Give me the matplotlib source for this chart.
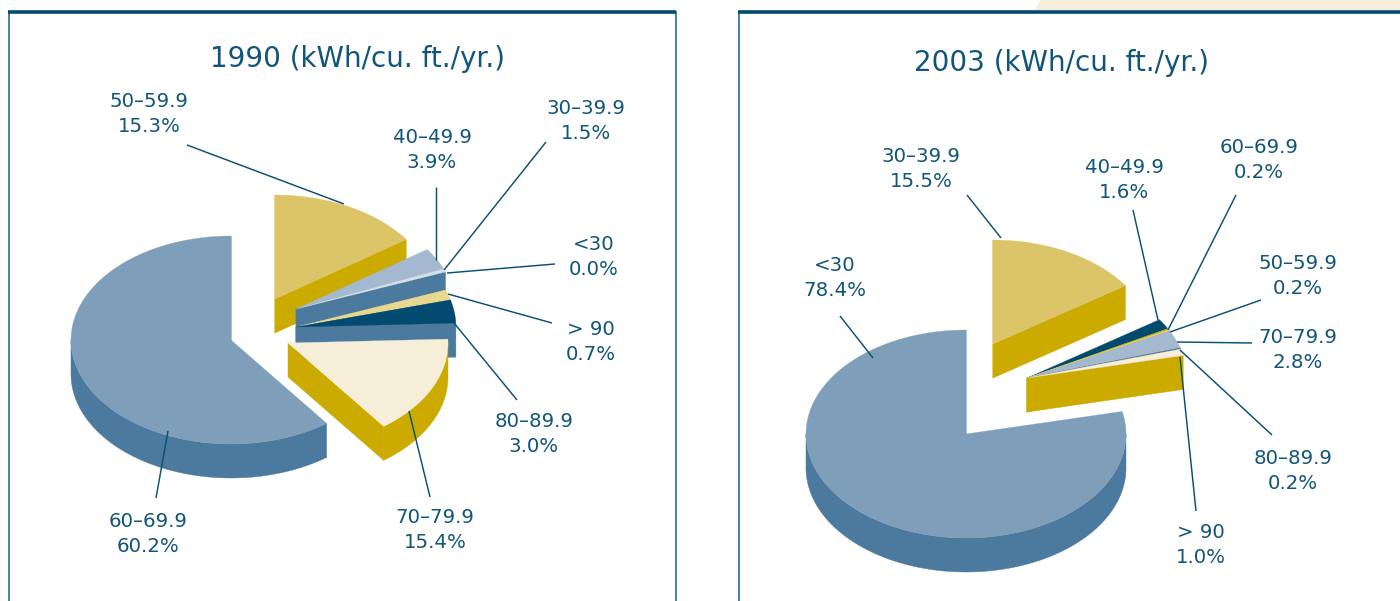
import numpy as np
import matplotlib
matplotlib.use("Agg")
import matplotlib.pyplot as plt
from matplotlib.patches import Polygon
from matplotlib.path import Path

# ---- data: printed labels -------------------------------------------------
titles = ["1990 (kWh/cu. ft./yr.)", "2003 (kWh/cu. ft./yr.)"]
labels_1990 = ["50–59.9\n15.3%", "40–49.9\n3.9%", "30–39.9\n1.5%", "<30\n0.0%",
               "> 90\n0.7%", "80–89.9\n3.0%", "70–79.9\n15.4%", "60–69.9\n60.2%"]
labels_2003 = ["30–39.9\n15.5%", "40–49.9\n1.6%", "60–69.9\n0.2%", "50–59.9\n0.2%",
               "70–79.9\n2.8%", "80–89.9\n0.2%", "> 90\n1.0%", "<30\n78.4%"]

# wedge shares as drawn, counter-clockwise from 12 o'clock (read from the wedges)
shares_1990 = [60.2, 15.4, 3.6, 1.6, 0.5, 3.4, 15.3]
shares_2003 = [78.4, 1.0, 0.2, 2.8, 0.2, 0.2, 1.6, 15.5]

# ---- styles -----------------------------------------------------------------
BIG, MID = "#7e9eb9", "#4b7a9e"
GOLD, DGOLD = "#dcc468", "#cbab00"
CREAM, NAVY = "#f6eed8", "#024a70"
LBLUE, PALE, LGOLD = "#a4b9cf", "#d6e0ea", "#e8d78f"
TEXT, RULE = "#11567a", "#004b70"

tops_1990 = [BIG, CREAM, NAVY, LGOLD, PALE, LBLUE, GOLD]
sides_1990 = [MID, DGOLD, MID, MID, MID, MID, DGOLD]
tops_2003 = [BIG, CREAM, MID, LBLUE, LGOLD, DGOLD, NAVY, GOLD]
sides_2003 = [MID, DGOLD, DGOLD, DGOLD, DGOLD, DGOLD, DGOLD, DGOLD]

# ---- layout (pixels of the 1400x601 picture) --------------------------------
RX, RY, DEPTH = 160, 104, 34
tips_1990 = [(231, 340), (288, 343), (296, 327), (296, 327), (296, 309), (296, 309), (275, 299)]
tips_2003 = [(966, 434), (1027, 378), (1027, 378), (1027, 378), (1027, 378), (1027, 378), (1027, 378), (993, 344)]
label_pos_1990 = [(149, 114), (432, 150), (586, 121), (594, 257), (591, 342), (534, 434), (435, 530), (148, 534)]
leaders_1990 = [((187, 145), (344, 204)), ((436, 187), (436, 260)), ((546, 142), (444, 270)),
                ((555, 264), (447, 273)), ((552, 323), (448, 294)), ((517, 400), (454, 323)),
                ((430, 497), (409, 411)), ((156, 498), (168, 431))]
label_pos_2003 = [(921, 169), (1124, 180), (1259, 160), (1298, 276), (1298, 350), (1293, 471), (1201, 545), (835, 278)]
leaders_2003 = [((967, 195), (1001, 238)), ((1133, 210), (1158, 320)), ((1236, 195), (1168, 330)),
                ((1261, 300), (1170, 332)), ((1252, 343), (1177, 342)), ((1272, 435), (1180, 350)),
                ((1196, 511), (1180, 357)), ((840, 316), (873, 358))]

fig = plt.figure(figsize=(14, 6.01), dpi=100)
ax = fig.add_axes([0, 0, 1, 1])
ax.set_xlim(0, 1400)
ax.set_ylim(601, 0)
ax.axis("off")


def wedge(tip, t0, t1):
    t = np.radians(np.linspace(t0, t1, max(int(abs(t1 - t0)) * 2, 3)))
    x = tip[0] - RX * np.sin(t)
    y = tip[1] - RY * np.cos(t)
    return np.column_stack([x, y])


def side_patch(pts, color):
    ax.add_patch(Polygon(pts, closed=True, fc=color, ec=color, lw=0.3))


def pie(shares, tops, sides, tips):
    edges = np.cumsum([0] + list(shares)) / sum(shares) * 360
    for i in range(len(shares) - 1, -1, -1):
        tip = np.array(tips[i], dtype=float)
        arc = wedge(tip, edges[i], edges[i + 1])
        outline = np.vstack([tip, arc])
        path = Path(outline)
        down = np.array([0, DEPTH])
        # only edges whose lower side lies outside the wedge show a wall
        for a, b in ((tip, arc[0]), (arc[-1], tip)):
            probe = (a + b) / 2 + [0, 0.5]
            if not path.contains_point(probe):
                side_patch([a, b, b + down, a + down], sides[i])
        mids = (arc[:-1] + arc[1:]) / 2 + [0, 0.5]
        keep = np.array([not path.contains_point(m) for m in mids])
        if keep.any():
            idx = np.flatnonzero(keep)
            low = arc[idx[0]:idx[-1] + 2]
            side_patch(np.vstack([low, (low + down)[::-1]]), sides[i])
        ax.add_patch(Polygon(outline, closed=True, fc=tops[i], ec=tops[i], lw=0.2))


# decoration and panel frames
ax.add_patch(Polygon([(1035, 10), (1040, 0), (1400, 0), (1400, 10)], closed=True, fc=CREAM, ec="none"))
for x in (8.5, 675.5, 738.5):
    ax.plot([x, x], [11, 601], color="#2b6b90", lw=1.2, solid_capstyle="butt")
ax.plot([8, 676], [11.5, 11.5], color=RULE, lw=2.6, solid_capstyle="butt")
ax.plot([738, 1400], [12, 12], color=RULE, lw=2.6, solid_capstyle="butt")

pie(shares_1990, tops_1990, sides_1990, tips_1990)
pie(shares_2003, tops_2003, sides_2003, tips_2003)

FONT = "DejaVu Sans"
for labels, pos, leaders in ((labels_1990, label_pos_1990, leaders_1990),
                             (labels_2003, label_pos_2003, leaders_2003)):
    for s, p, (a, b) in zip(labels, pos, leaders):
        ax.text(p[0], p[1], s, ha="center", va="center", color=TEXT, fontsize=14.2,
                family=FONT, linespacing=1.38)
        ax.plot([a[0], b[0]], [a[1], b[1]], color="#0a4f74", lw=1.05, solid_capstyle="butt")

ax.text(358, 59, titles[0], ha="center", va="center", color=TEXT, fontsize=20, family=FONT)
ax.text(1061, 63, titles[1], ha="center", va="center", color=TEXT, fontsize=20, family=FONT)

fig.savefig("out.png", dpi=100)
